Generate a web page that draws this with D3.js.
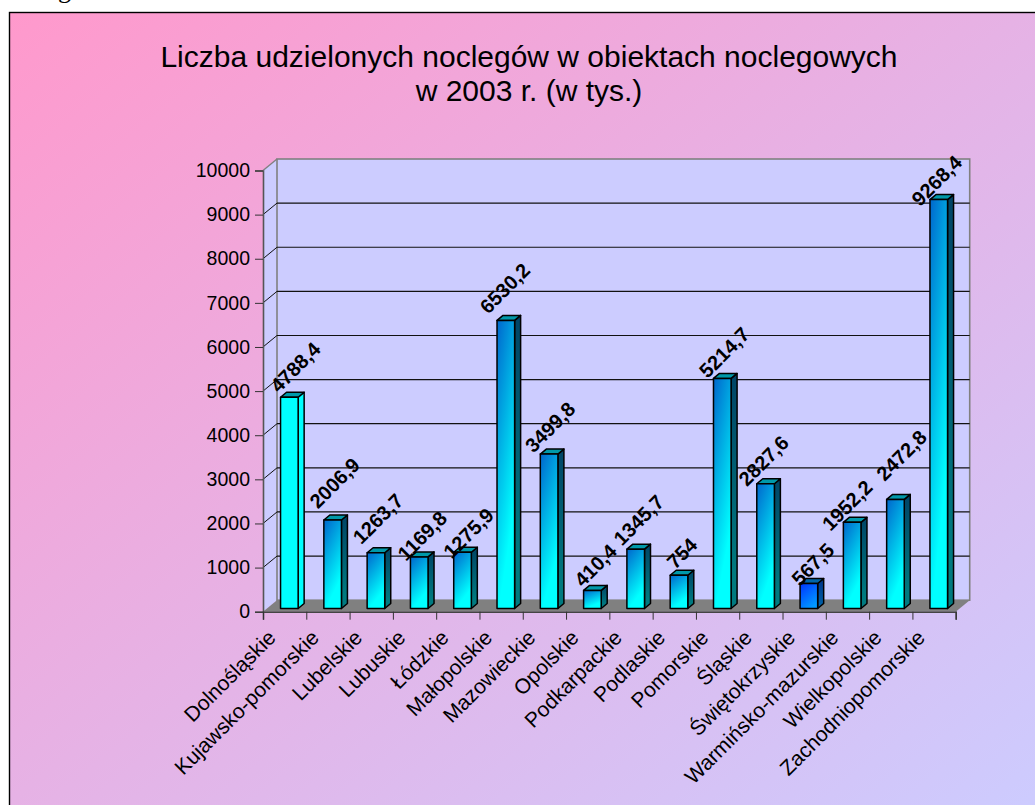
<!DOCTYPE html>
<html>
<head>
<meta charset="utf-8">
<script src="https://cdn.jsdelivr.net/npm/d3@7"></script>
<style>
  html, body { margin: 0; padding: 0; background: #fff; overflow: hidden; }
  svg { display: block; }
  text { font-family: "Liberation Sans", Arial, sans-serif; fill: #000; }
</style>
</head>
<body>
<svg id="chart"></svg>
<script>
const svg_width = 1035;
const svg_height = 805;

const categories = ["Dolnośląskie", "Kujawsko-pomorskie", "Lubelskie", "Lubuskie", "Łódzkie",
  "Małopolskie", "Mazowieckie", "Opolskie", "Podkarpackie", "Podlaskie", "Pomorskie", "Śląskie",
  "Świętokrzyskie", "Warmińsko-mazurskie", "Wielkopolskie", "Zachodniopomorskie"];
const values = [4788.4, 2006.9, 1263.7, 1169.8, 1275.9, 6530.2, 3499.8, 410.4,
  1345.7, 754, 5214.7, 2827.6, 567.5, 1952.2, 2472.8, 9268.4];
const y_ticks = [0, 1000, 2000, 3000, 4000, 5000, 6000, 7000, 8000, 9000, 10000];
const title_lines = ["Liczba udzielonych noclegów w obiektach noclegowych", "w 2003 r. (w tys.)"];

// hand placed offsets of the value labels, excel moved them around
const label_dx = [6, 2, 2, 3, 6, -1, 1, 3, 3, 3, 2, -2, 4, -5, 6, -2];
const label_dy = [-30, -37, -34, -21, -19, -32, -27, -25, -29, -22, -26, -23, -19, -17, -44, -19];

// fill per bar, first one is flat cyan and 13th is the deep blue one
const bar_style = ["flat", "std", "std", "std", "std", "std", "std", "std",
  "std", "std", "std", "std", "blue", "std", "std", "std"];

const plot = { left: 263, right: 955.7, bottom: 611.7, top: 170.5 };
const depth = { x: 14, y: -11.5 };
const bar_width = 17.6;
const bar_shift = { x: 4.7, y: -3.2 };
const bar_depth = { x: 6, y: -5 };

const svg = d3.select("svg#chart")
  .attr("width", svg_width)
  .attr("height", svg_height);

const defs = svg.append("defs");

function gradient(id, stops, x2, y2) {
  const g = defs.append("linearGradient")
    .attr("id", id)
    .attr("x1", 0).attr("y1", 0)
    .attr("x2", x2).attr("y2", y2);
  stops.forEach(s => g.append("stop").attr("offset", s[0]).attr("stop-color", s[1]));
}

gradient("bg", [[0, "#ff99cc"], [1, "#ccccff"]], 1, 1);
gradient("front_std", [[0, "#0066cc"], [0.9, "#00ffff"]], 0.4, 1);
gradient("side_std", [[0, "#004466"], [0.85, "#007a80"]], 0, 1);
gradient("front_blue", [[0, "#0033ff"], [1, "#0099ff"]], 0.6, 1);
gradient("side_blue", [[0, "#003388"], [1, "#0066aa"]], 0, 1);

const x = d3.scaleBand()
  .domain(categories)
  .range([plot.left, plot.right]);

const x_edges = d3.scaleLinear()
  .domain([0, categories.length])
  .range([plot.left, plot.right]);

const y = d3.scaleLinear()
  .domain([0, 10000])
  .range([plot.bottom, plot.top]);

// background and the frame, it runs off the page on the right and bottom
svg.append("rect")
  .attr("x", 9.5).attr("y", 12.5)
  .attr("width", svg_width + 2).attr("height", svg_height)
  .attr("fill", "url(#bg)")
  .attr("stroke", "#000")
  .attr("stroke-width", 1.4);

// tail of a line of text above the chart, cut by the crop
svg.append("text")
  .attr("x", 58).attr("y", -2)
  .style("font-family", "'Liberation Serif', serif")
  .style("font-size", "26px")
  .text("g");

// title
svg.append("g").selectAll("text")
  .data(title_lines)
  .enter()
  .append("text")
  .attr("x", 529)
  .attr("y", (d, i) => 67 + i * 34)
  .attr("text-anchor", "middle")
  .style("font-size", "30px")
  .text(d => d);

// walls
const wall_fill = "#ccccff";
const wall_edge = "#808080";

svg.append("path")
  .attr("d", d3.line()([
    [plot.left, y(0)], [plot.left + depth.x, y(0) + depth.y],
    [plot.left + depth.x, y(10000) + depth.y], [plot.left, y(10000)]
  ]) + "Z")
  .attr("fill", wall_fill);

svg.append("rect")
  .attr("x", plot.left + depth.x)
  .attr("y", y(10000) + depth.y)
  .attr("width", plot.right - plot.left)
  .attr("height", y(0) - y(10000))
  .attr("fill", wall_fill)
  .attr("stroke", wall_edge)
  .attr("stroke-width", 1.6);

svg.append("path")
  .attr("d", d3.line()([
    [plot.left, y(10000)], [plot.left + depth.x, y(10000) + depth.y]
  ]))
  .attr("stroke", wall_edge)
  .attr("stroke-width", 1.4);

// grid, on the back wall and running down the left wall
const grid = svg.append("g");
const grid_values = y_ticks.filter(d => d > 0 && d < 10000);

grid.selectAll("line.back")
  .data(grid_values)
  .enter()
  .append("line")
  .attr("class", "back")
  .attr("x1", plot.left + depth.x)
  .attr("x2", plot.right + depth.x)
  .attr("y1", d => y(d) + depth.y)
  .attr("y2", d => y(d) + depth.y)
  .attr("stroke", "#111")
  .attr("stroke-width", 1.2);

grid.selectAll("line.side")
  .data(grid_values)
  .enter()
  .append("line")
  .attr("class", "side")
  .attr("x1", plot.left)
  .attr("x2", plot.left + depth.x)
  .attr("y1", d => y(d))
  .attr("y2", d => y(d) + depth.y)
  .attr("stroke", "#111");

// floor
svg.append("path")
  .attr("d", d3.line()([
    [plot.left, y(0)], [plot.left + depth.x, y(0) + depth.y],
    [plot.right + depth.x, y(0) + depth.y], [plot.right, y(0)]
  ]) + "Z")
  .attr("fill", "#808080");

// axes
const y_axis = d3.axisLeft(y)
  .tickValues(y_ticks)
  .tickSize(8)
  .tickPadding(5)
  .tickFormat(d => d);

const x_axis = d3.axisBottom(x_edges)
  .tickValues(d3.range(categories.length + 1))
  .tickSize(8)
  .tickFormat("");

const g_y = svg.append("g")
  .attr("transform", "translate(" + plot.left + ",0)")
  .call(y_axis);
g_y.selectAll("text").style("font-size", "19.5px");
g_y.selectAll("line").attr("stroke", "#333");
g_y.select(".domain").attr("stroke", "#555").attr("stroke-width", 1.6);

const g_x = svg.append("g")
  .attr("transform", "translate(0," + plot.bottom + ")")
  .call(x_axis);
g_x.selectAll("line").attr("stroke", "#333");
g_x.select(".domain").attr("stroke", "#444").attr("stroke-width", 1.6);

// bars
const bar_x = d => x(d) + (x.bandwidth() - bar_width) / 2 + bar_shift.x;
const base_y = y(0) + bar_shift.y;
const bar_top = v => y(v) + bar_shift.y;

const bars = svg.append("g").selectAll("g")
  .data(categories)
  .enter()
  .append("g")
  .attr("stroke", "#000")
  .attr("stroke-width", 1.5)
  .attr("stroke-linejoin", "round");

// side
bars.append("path")
  .attr("d", (d, i) => {
    const x1 = bar_x(d) + bar_width;
    return d3.line()([
      [x1, bar_top(values[i])],
      [x1 + bar_depth.x, bar_top(values[i]) + bar_depth.y],
      [x1 + bar_depth.x, base_y + bar_depth.y],
      [x1, base_y]
    ]) + "Z";
  })
  .attr("fill", (d, i) => bar_style[i] === "flat" ? "#00ffff" : "url(#side_" + bar_style[i] + ")");

// top
bars.append("path")
  .attr("d", (d, i) => {
    const x0 = bar_x(d);
    const t = bar_top(values[i]);
    return d3.line()([
      [x0, t],
      [x0 + bar_depth.x, t + bar_depth.y],
      [x0 + bar_width + bar_depth.x, t + bar_depth.y],
      [x0 + bar_width, t]
    ]) + "Z";
  })
  .attr("fill", (d, i) => bar_style[i] === "blue" ? "#0066aa" : "#0099aa");

// front
bars.append("rect")
  .attr("x", d => bar_x(d))
  .attr("y", (d, i) => bar_top(values[i]))
  .attr("width", bar_width)
  .attr("height", (d, i) => base_y - bar_top(values[i]))
  .attr("fill", (d, i) => bar_style[i] === "flat" ? "#00ffff" : "url(#front_" + bar_style[i] + ")");

// value labels
svg.append("g").selectAll("text")
  .data(categories)
  .enter()
  .append("text")
  .attr("transform", (d, i) => translate(
    bar_x(d) + bar_width / 2 + label_dx[i],
    bar_top(values[i]) + label_dy[i]) + " rotate(-45)")
  .attr("text-anchor", "middle")
  .attr("dominant-baseline", "central")
  .style("font-size", "20px")
  .style("font-weight", "bold")
  .text((d, i) => String(values[i]).replace(".", ","));

// category labels
svg.append("g").selectAll("text")
  .data(categories)
  .enter()
  .append("text")
  .attr("transform", d => translate(x(d) + x.bandwidth() / 2 - 13, plot.bottom + 22) + " rotate(-45)")
  .attr("text-anchor", "end")
  .attr("dominant-baseline", "central")
  .style("font-size", "21px")
  .text(d => d);

function translate(x, y) {
  return "translate(" + String(x) + "," + String(y) + ")";
}
</script>
</body>
</html>
